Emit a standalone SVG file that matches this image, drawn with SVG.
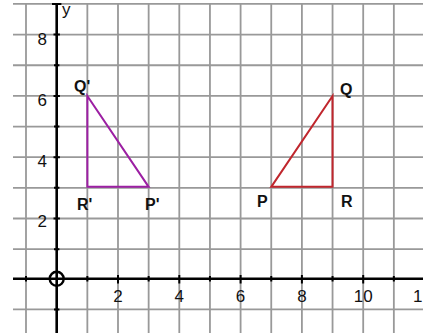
<svg xmlns="http://www.w3.org/2000/svg" width="423" height="333" viewBox="0 0 423 333">
<style>
.grid{stroke:#999;stroke-width:1.8;fill:none}
.axis{stroke:#000;stroke-width:2.6;fill:none}
.tick{stroke:#000;stroke-width:2}
.num{font-family:"Liberation Sans",Arial,sans-serif;font-size:17px;fill:#111}
.lab{font-family:"Liberation Sans",Arial,sans-serif;font-size:16px;font-weight:bold;fill:#111}
</style>
<rect width="423" height="333" fill="#fff"/>
<g id="grid" class="grid">
<path d="M26 4V333M87.35 4V333M118 4V333M148.65 4V333M179.3 4V333M209.95 4V333M240.6 4V333M271.25 4V333M301.9 4V333M332.55 4V333M363.2 4V333M393.85 4V333"/>
<path d="M13 3.95H423M13 34.6H423M13 65.25H423M13 95.9H423M13 126.55H423M13 157.2H423M13 187.85H423M13 218.5H423M13 249.15H423M13 309.45H423"/>
</g>
<g id="axes">
<path class="axis" d="M13 278.8H423M56.7 4V333"/>
<path class="tick" d="M52 4H61.4M53.5 34.6H59.9M54 65.25H59.4M53.5 95.9H59.9M54 126.55H59.4M53.5 157.2H59.9M54 187.85H59.4M53.5 218.5H59.9M54 249.15H59.4M54 309.45H59.4"/>
<path class="tick" d="M26 276V281.6M87.35 276V281.6M118 275V283.5M148.65 276V281.6M179.3 275V283.5M209.95 276V281.6M240.6 275V283.5M271.25 276V281.6M301.9 275V283.5M332.55 276V281.6M363.2 275V283.5M393.85 276V281.6"/>
<circle cx="56.7" cy="278.8" r="7" fill="none" stroke="#000" stroke-width="2.4"/>
<text class="num" x="62" y="15">y</text>
<text class="num" x="47" y="45" text-anchor="end">8</text>
<text class="num" x="47" y="106" text-anchor="end">6</text>
<text class="num" x="47" y="167" text-anchor="end">4</text>
<text class="num" x="47" y="227" text-anchor="end">2</text>
<text class="num" x="118" y="302" text-anchor="middle">2</text>
<text class="num" x="179.3" y="302" text-anchor="middle">4</text>
<text class="num" x="240.6" y="302" text-anchor="middle">6</text>
<text class="num" x="301.9" y="302" text-anchor="middle">8</text>
<text class="num" x="363.2" y="302" text-anchor="middle">10</text>
<text class="num" x="413" y="302">1</text>
</g>
<g id="image-triangle">
<polygon points="87.35,95.9 87.35,186.85 148.65,186.85" fill="none" stroke="#9c1fa3" stroke-width="2" stroke-linejoin="miter"/>
<text class="lab" x="74" y="92">Q'</text>
<text class="lab" x="77" y="210">R'</text>
<text class="lab" x="145" y="210">P'</text>
</g>
<g id="original-triangle">
<polygon points="271.25,186.85 332.55,95.9 332.55,186.85" fill="none" stroke="#c0262d" stroke-width="2"/>
<text class="lab" x="340" y="95">Q</text>
<text class="lab" x="257" y="207">P</text>
<text class="lab" x="341" y="207">R</text>
</g>
</svg>
